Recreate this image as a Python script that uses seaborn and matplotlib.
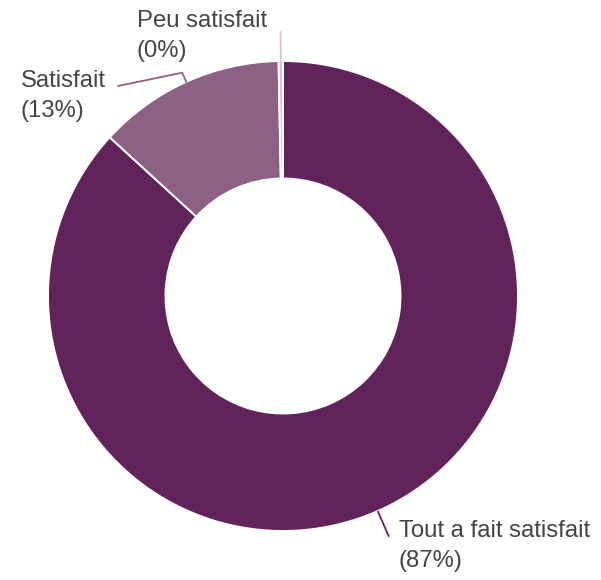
import numpy as np
import matplotlib
matplotlib.use("Agg")
import matplotlib.pyplot as plt
import seaborn as sns

# Survey responses (share of respondents, %)
categories = ["Tout a fait satisfait", "Satisfait", "Peu satisfait"]
values = [86.8, 12.9, 0.3]
colors = ["#62225A", "#8C6184", "#D8C2D4"]

sns.set_theme(style="white")
plt.rcParams["font.family"] = ["Liberation Sans", "DejaVu Sans"]

W, H = 601, 580
fig = plt.figure(figsize=(W / 100, H / 100), dpi=100)
ax = fig.add_axes([0, 0, 1, 1])

cx, cy, R = 283, H - 296, 235
wedges, _ = ax.pie(
    values, colors=colors, startangle=90, counterclock=False,
    radius=R, center=(cx, cy), frame=True,
    wedgeprops=dict(width=R * 0.5, edgecolor="white", linewidth=1.4),
)

total = sum(values)
text_color = "#444444"
fs = 17.2
ls = 1.45

for w, name, v, col in zip(wedges, categories, values, colors):
    mid = np.deg2rad((w.theta1 + w.theta2) / 2)
    ex, ey = cx + R * np.cos(mid), cy + R * np.sin(mid)
    label = f"{name}\n({v / total * 100:.0f}%)"
    if name == "Tout a fait satisfait":
        ox, oy = cx + (R + 28) * np.cos(mid), cy + (R + 28) * np.sin(mid)
        ax.plot([ex, ox], [ey, oy], color=col, lw=1.3, solid_capstyle="butt")
        ax.text(399, H - 520, label, color=text_color, fontsize=fs,
                ha="left", va="top", linespacing=ls)
    elif name == "Satisfait":
        ox, oy = cx + (R + 10) * np.cos(mid), cy + (R + 10) * np.sin(mid)
        ax.plot([ex, ox, 118], [ey, oy, H - 86], color=col, lw=1.3)
        ax.text(21, H - 70, label, color=text_color, fontsize=fs,
                ha="left", va="top", linespacing=ls)
    else:
        ox, oy = cx + (R + 29) * np.cos(mid), cy + (R + 29) * np.sin(mid)
        ax.plot([ex, ox], [ey, oy], color=col, lw=1.3)
        ax.text(137, H - 10, label, color=text_color, fontsize=fs,
                ha="left", va="top", linespacing=ls)

ax.set_xlim(0, W)
ax.set_ylim(0, H)
ax.set_aspect("equal")
ax.axis("off")
fig.savefig("out.png", dpi=100, facecolor="white")
